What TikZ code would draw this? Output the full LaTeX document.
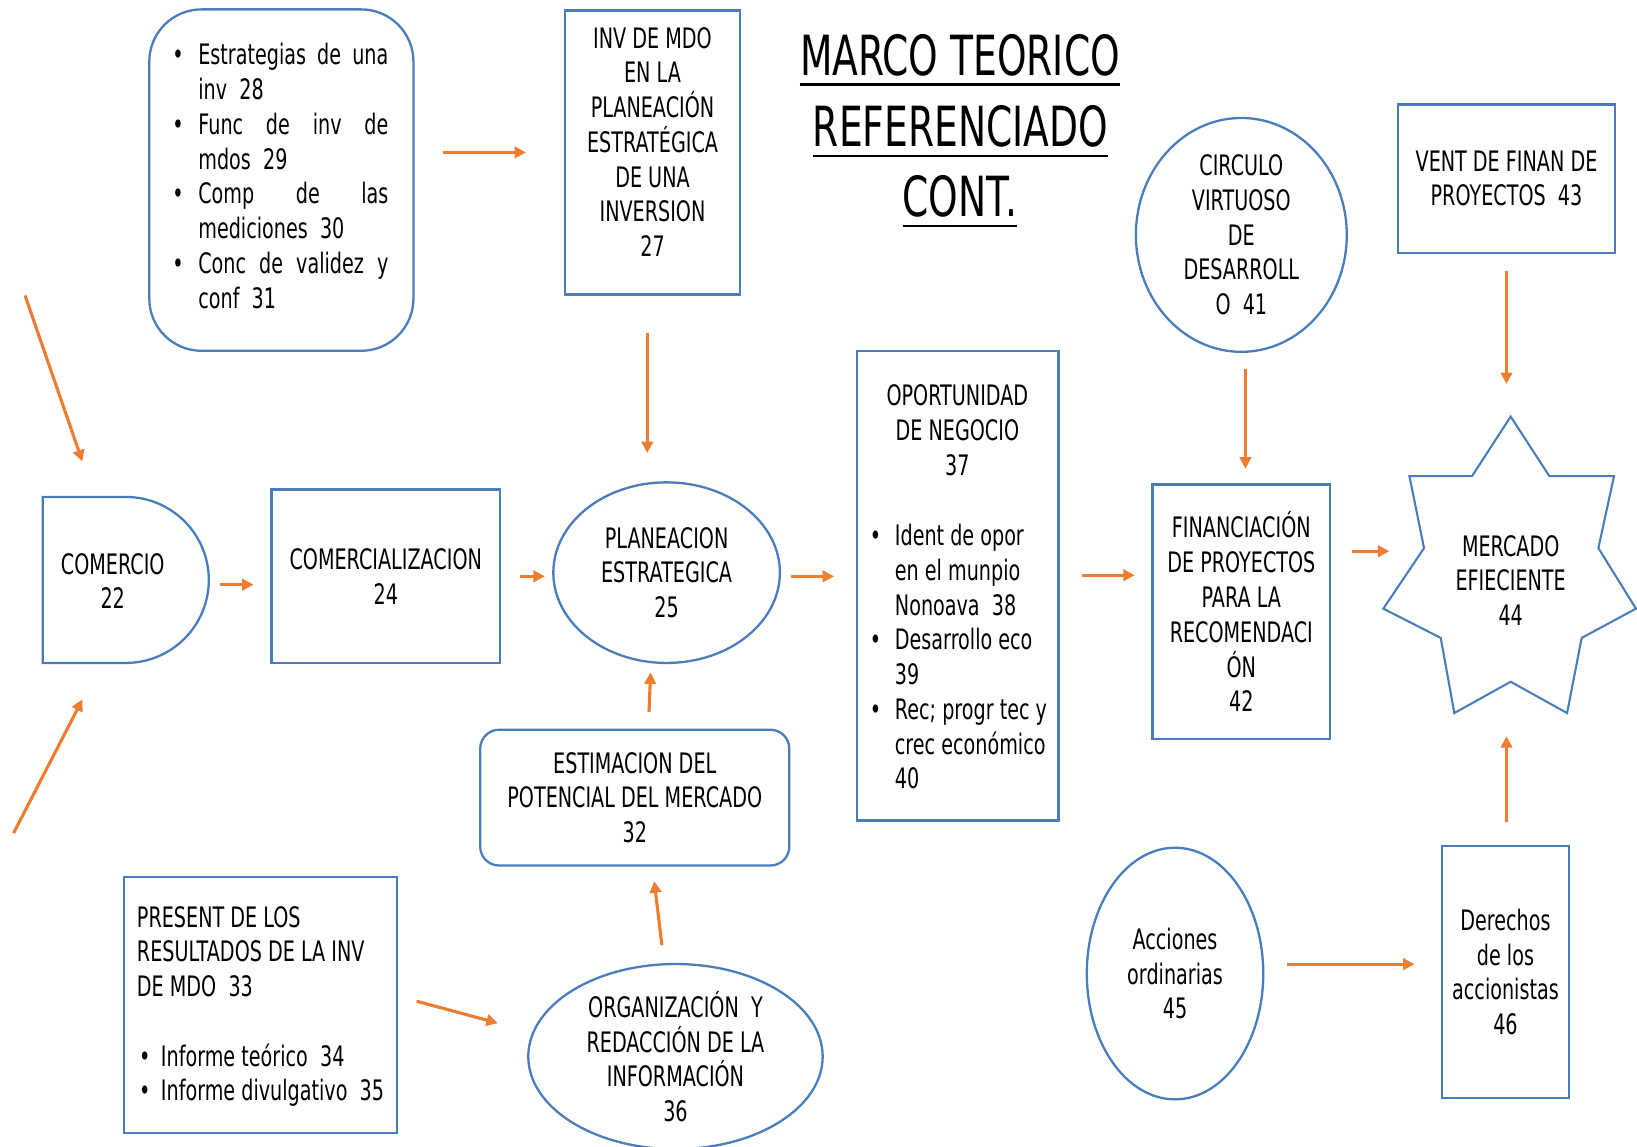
\documentclass[tikz,border=0pt]{standalone}
\usepackage{fontspec}
\setmainfont{DejaVu Sans}[FakeStretch=0.68]
\usetikzlibrary{shapes.geometric,shapes.misc,arrows.meta,calc}
\definecolor{bl}{HTML}{4A7EBB}
\definecolor{org}{HTML}{ED7D31}
\newcommand\txtfont{\fontsize{27}{33.3}\selectfont}
\newcommand\ttlfont{\fontsize{53}{68}\selectfont}
\newcommand\bul{\makebox[25pt][l]{•}}
\begin{document}
\begin{tikzpicture}[x=1pt,y=-1pt,
  shp/.style={draw=bl,line width=2.2pt,inner sep=0pt,align=center,font=\txtfont,text=black},
  txt/.style={inner sep=0pt,font=\txtfont,text=black},
  ttl/.style={inner sep=0pt,font=\ttlfont,text=black,anchor=base},
  arr/.style={draw=org,line width=3pt,-{Triangle[length=11pt,width=11pt]}}]
\useasboundingbox (0,0) rectangle (1568,1098);

% box A (bullets 28-31)
\node[shp,rounded corners=50pt,minimum width=253pt,minimum height=327pt] (A) at (269.5,172.5) {};
\node[txt,align=left] (tA) at (268.5,168.5) {%
\bul\makebox[182pt][s]{Estrategias de una}\\
\hspace*{25pt}inv\ \ 28\\
\bul\makebox[182pt][s]{Func de inv de}\\
\hspace*{25pt}mdos\ \ 29\\
\bul\makebox[182pt][s]{Comp de las}\\
\hspace*{25pt}mediciones\ \ 30\\
\bul\makebox[182pt][s]{Conc de validez y}\\
\hspace*{25pt}conf\ \ 31};

% box 27
\node[shp,minimum width=168pt,minimum height=272pt] (B27) at (625,146) {};
\node[txt,align=center] (tB27) at (625,136) {INV DE MDO\\EN LA\\PLANEACIÓN\\ESTRATÉGICA\\DE UNA\\INVERSION\\27};

% title
\node[ttl] (T1) at (919.5,72) {MARCO TEORICO};
\node[ttl] (T2) at (920,140.5) {REFERENCIADO};
\node[ttl] (T3) at (919.5,207.5) {CONT.};
\foreach \t in {T1,T2,T3}
  \draw[line width=2.2pt] ([yshift=-9pt]\t.base west) -- ([yshift=-9pt]\t.base east);

% circle 41
\node[shp,ellipse,minimum width=202pt,minimum height=224pt] (C41) at (1189,225) {CIRCULO\\VIRTUOSO\\DE\\DESARROLL\\O\ \ 41};

% box 43
\node[shp,minimum width=208pt,minimum height=142pt] (V43) at (1443,171) {VENT DE FINAN DE\\PROYECTOS\ \ 43};

% comercio 22
\node[shp,rounded rectangle,rounded rectangle left arc=none,minimum width=159pt,minimum height=159pt] (C22) at (120.5,555.5) {};
\node[txt,align=center] (tC22) at (108,556.5) {COMERCIO\\22};

% 24
\node[shp,minimum width=219pt,minimum height=166pt] (B24) at (369.5,552) {COMERCIALIZACION\\24};

% 25
\node[shp,ellipse,minimum width=217pt,minimum height=173pt] (P25) at (638.5,548.5) {PLANEACION\\ESTRATEGICA\\25};

% 37
\node[shp,minimum width=193pt,minimum height=450pt] (O37) at (917.5,561) {};
\node[txt,align=center] (tO37a) at (917,412) {OPORTUNIDAD\\DE NEGOCIO\\37};
\node[txt,align=left,anchor=west] (tO37b) at (833,629) {%
\makebox[24pt][l]{•}Ident de opor\\
\hspace*{24pt}en el munpio\\
\hspace*{24pt}Nonoava\ \ 38\\
\makebox[24pt][l]{•}Desarrollo eco\\
\hspace*{24pt}39\\
\makebox[24pt][l]{•}Rec; progr tec y\\
\hspace*{24pt}crec económico\\
\hspace*{24pt}40};

% 42
\node[shp,minimum width=170pt,minimum height=244pt] (F42) at (1189,586) {FINANCIACIÓN\\DE PROYECTOS\\PARA LA\\RECOMENDACI\\ÓN\\42};

% 44 star
\node[inner sep=0pt,minimum width=242pt,minimum height=284pt] (M44) at (1446,541) {};
\draw[draw=bl,line width=2pt,line join=miter]
  (1447,399) -- (1484,456) -- (1546,456) -- (1531,525) -- (1567,583) -- (1515,611) -- (1501,683)
  -- (1447,653) -- (1393,683) -- (1380,611) -- (1325,583) -- (1364,525) -- (1350,456) -- (1410,456) -- cycle;
\node[txt,align=center] (tM44) at (1447,556) {MERCADO\\EFIECIENTE\\44};

% 32
\node[shp,rounded corners=18pt,minimum width=296pt,minimum height=130pt] (E32) at (608,764) {ESTIMACION DEL\\POTENCIAL DEL MERCADO\\32};

% 33
\node[shp,minimum width=261pt,minimum height=245pt] (R33) at (249.5,962.5) {};
\node[txt,align=left,anchor=west] (tR33) at (131,964) {%
PRESENT DE LOS\\
RESULTADOS DE LA INV\\
DE MDO\ \ 33\\[33.3pt]
\hspace*{2pt}\makebox[21pt][l]{•}Informe teórico\ \ 34\\
\hspace*{2pt}\makebox[21pt][l]{•}Informe divulgativo\ \ 35};

% 36
\node[shp,ellipse,minimum width=282pt,minimum height=173pt] (O36) at (647,1012) {ORGANIZACIÓN\ \ Y\\REDACCIÓN DE LA\\INFORMACIÓN\\36};

% 45
\node[shp,ellipse,minimum width=169pt,minimum height=241pt] (A45) at (1125.5,932.5) {Acciones\\ordinarias\\45};

% 46
\node[shp,minimum width=122pt,minimum height=242pt] (D46) at (1442,931) {Derechos\\de los\\accionistas\\46};

% free starts
\coordinate (s1) at (24,283);
\coordinate (s2) at (13,798);

% arrows
\draw[arr,shorten <=27pt,shorten >=36pt] (A.east |- B27.west) -- (B27.west);
\draw[arr,shorten <=36pt,shorten >=27pt] ([xshift=-5pt]B27.south) -- ([xshift=-5pt]B27.south |- P25.north);
\draw[arr,shorten <=15pt,shorten >=14pt] ([xshift=4pt]C41.south) -- ([xshift=4pt]C41.south |- F42.north);
\draw[arr,shorten <=16pt,shorten >=31pt] (V43.south) -- (V43.south |- M44.north);
\draw[arr] (s1) -- ([xshift=39pt,yshift=113.5pt]C22.west);
\draw[arr] (s2) -- ([xshift=39pt,yshift=-114.5pt]C22.west);
\draw[arr,shorten <=10pt,shorten >=16pt] ([yshift=-4.5pt]C22.east) -- ([yshift=-4.5pt]C22.east -| B24.west);
\draw[arr,shorten <=18pt,shorten >=7pt] (B24.east) -- (B24.east -| P25.west);
\draw[arr,shorten <=10pt,shorten >=21pt] ([yshift=-3.5pt]P25.east) -- ([yshift=-3.5pt]P25.east -| O37.west);
\draw[arr,shorten <=21pt,shorten >=16pt] ([yshift=10pt]O37.east) -- ([yshift=10pt]O37.east -| F42.west);
\draw[arr,shorten <=20pt,shorten >=-6pt] ([yshift=58pt]F42.east) -- ([yshift=58pt]F42.east -| M44.west);
\draw[arr,shorten <=16pt,shorten >=8pt] ([xshift=13pt]E32.north) -- ([xshift=-15pt]P25.south);
\draw[arr,shorten <=17pt,shorten >=14pt] ([xshift=-11pt]O36.north) -- ([xshift=17pt]E32.south);
\draw[arr] ([xshift=18pt,yshift=3.5pt]R33.east) -- ([xshift=-28pt,yshift=32pt]O36.west);
\draw[arr,shorten <=22pt,shorten >=25pt] ([yshift=9pt]A45.east) -- ([yshift=9pt]A45.east -| D46.west);
\draw[arr,shorten <=22pt,shorten >=22pt] ([xshift=1pt]D46.north) -- ([xshift=1pt]D46.north |- M44.south);
\end{tikzpicture}
\end{document}
